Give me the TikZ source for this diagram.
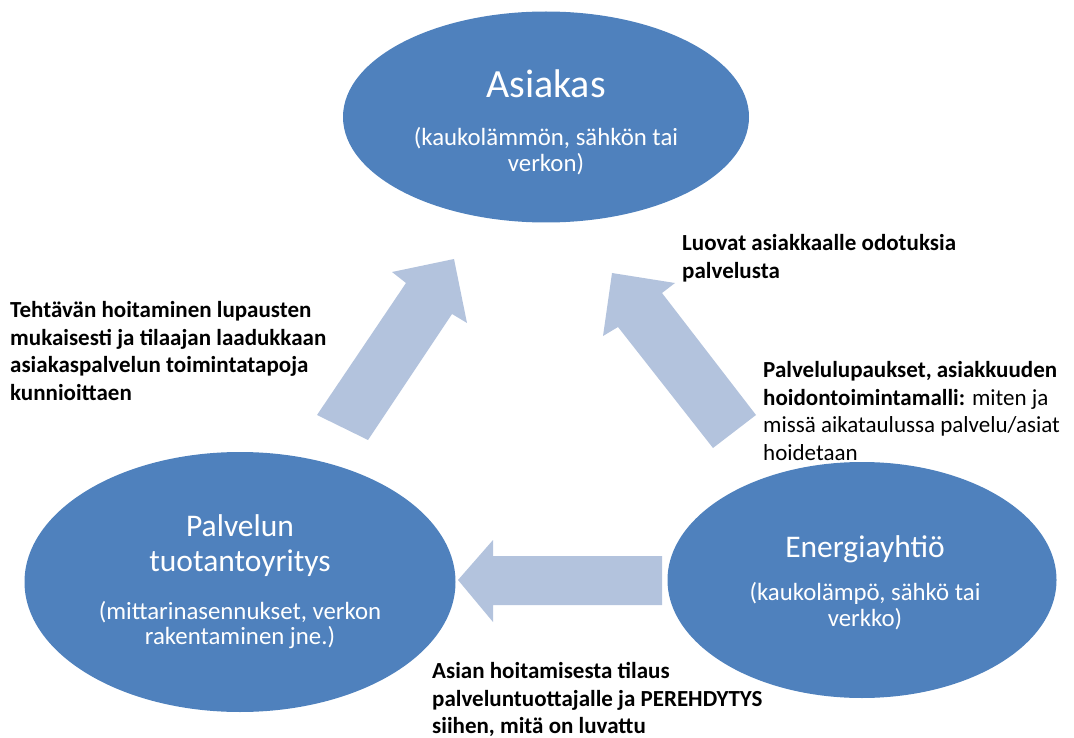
\documentclass[tikz,border=0pt]{standalone}
\usepackage{fontspec}
\setmainfont{Carlito}
\usetikzlibrary{shapes.geometric}
\definecolor{ellblue}{HTML}{4F81BD}
\definecolor{arrblue}{HTML}{B3C3DD}
\tikzset{
  bubble/.style={ellipse, fill=ellblue, draw=none, inner sep=0pt},
  title/.style={text=white, inner sep=0pt, align=center, font=\fontsize{31.5}{35}\selectfont},
  bigtitle/.style={text=white, inner sep=0pt, align=center, font=\fontsize{40}{44}\selectfont},
  sub/.style={text=white, inner sep=0pt, align=center, font=\fontsize{24.8}{25.5}\selectfont},
  label/.style={text=black, inner sep=0pt, align=left, anchor=north west, font=\fontsize{23}{27.7}\selectfont},
  blockarrow/.style={fill=arrblue, draw=none}
}
\begin{document}
\begin{tikzpicture}[x=1pt,y=-1pt]
\useasboundingbox (0,0) rectangle (1074,738);
% ellipses
\node[bubble, minimum width=406pt, minimum height=211pt] (asiakas) at (546,117) {};
\node[bubble, minimum width=431pt, minimum height=260pt] (palvelu) at (240,582) {};
\node[bubble, minimum width=389pt, minimum height=236pt] (energia) at (862,580) {};
% ellipse texts
\node[bigtitle] (asiakasT) at (546,84) {Asiakas};
\node[sub] (asiakasS) at (546,151) {(kaukolämmön, sähkön tai\\verkon)};
\node[title] (palveluT) at (240,546) {Palvelun\\tuotantoyritys};
\node[sub] (palveluS) at (240,625) {(mittarinasennukset, verkon\\rakentaminen jne.)};
\node[title] (energiaT) at (865,549) {Energiayhtiö};
\node[sub] (energiaS) at (865,606) {(kaukolämpö, sähkö tai\\verkko)};
% block arrows
\path[blockarrow] (317,415) -- (406,283) -- (392,272) -- (454,259) -- (467,323) -- (452,314) -- (368,440) -- cycle;
\path[blockarrow] (756,415) -- (662,293) -- (675,283) -- (612,273) -- (603,336) -- (618,327) -- (713,448) -- cycle;
\path[blockarrow] (662,556) -- (493,556) -- (493,540) -- (458,580) -- (493,622) -- (493,605) -- (662,605) -- cycle;
% labels
\node[label] (lblLeft) at (10,301) {\bfseries Tehtävän hoitaminen lupausten\\\bfseries mukaisesti ja tilaajan laadukkaan\\\bfseries asiakaspalvelun toimintatapoja\\\bfseries kunnioittaen};
\node[label] (lblTop) at (682,234) {\bfseries Luovat asiakkaalle odotuksia\\\bfseries palvelusta};
\node[label] (lblRight) at (763,361) {\textbf{Palvelulupaukset, asiakkuuden}\\\textbf{hoidontoimintamalli:} miten ja\\missä aikataulussa palvelu/asiat\\hoidetaan};
\node[label] (lblBottom) at (432,662) {\bfseries Asian hoitamisesta tilaus\\\bfseries palveluntuottajalle ja PEREHDYTYS\\\bfseries siihen, mitä on luvattu};
\end{tikzpicture}
\end{document}
